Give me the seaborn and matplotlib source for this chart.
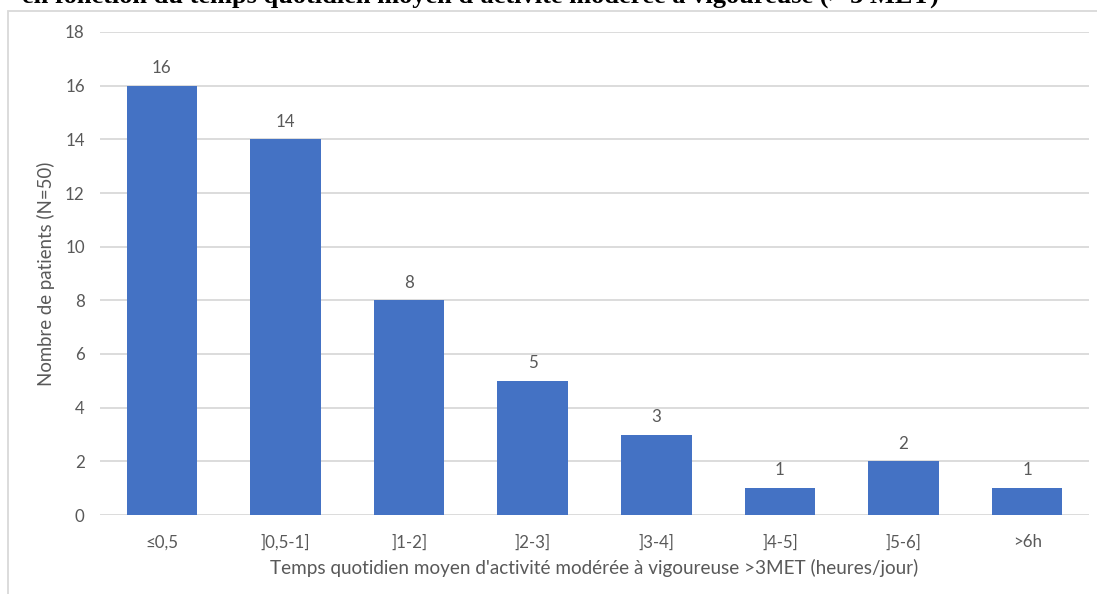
import matplotlib
matplotlib.use("Agg")
import matplotlib.pyplot as plt
from matplotlib.patches import Rectangle
import seaborn as sns
import pandas as pd

categories = ["≤0,5", "]0,5-1]", "]1-2]", "]2-3]", "]3-4]", "]4-5]", "]5-6]", ">6h"]
patients = [16, 14, 8, 5, 3, 1, 2, 1]
y_ticks = [0, 2, 4, 6, 8, 10, 12, 14, 16, 18]

title = "en fonction du temps quotidien moyen d'activité modérée à vigoureuse (> 3 MET)"
x_label = "Temps quotidien moyen d'activité modérée à vigoureuse >3MET (heures/jour)"
y_label = "Nombre de patients (N=50)"

sns.set_theme(style="white")
plt.rcParams["font.family"] = ["Lato", "DejaVu Sans"]

TEXT = "#595959"
GRID = "#d9d9d9"
BAR = "#4472C4"

df = pd.DataFrame({"cat": categories, "n": patients})

fig = plt.figure(figsize=(10.97, 5.94), dpi=100)
ax = fig.add_axes([100 / 1097, 1 - 515 / 594, 989 / 1097, (515 - 32) / 594])

# chart frame
fig.patches.append(Rectangle((8 / 1097, -0.1), 1.2, 1 - 11 / 594 + 0.1,
                             transform=fig.transFigure, fill=False,
                             edgecolor=GRID, linewidth=1.3, zorder=0))

sns.barplot(data=df, x="cat", y="n", color=BAR, saturation=1, width=0.57,
            linewidth=0, ax=ax, zorder=3)

ax.set_ylim(0, 18)
ax.set_xlim(-0.5, len(categories) - 0.5)
ax.set_yticks(y_ticks)
ax.yaxis.grid(True, color=GRID, linewidth=1.3, zorder=0)
ax.set_axisbelow(True)
for s in ax.spines.values():
    s.set_visible(False)
ax.tick_params(axis="both", length=0, labelsize=12.2, labelcolor=TEXT)
ax.tick_params(axis="y", pad=11)
ax.tick_params(axis="x", pad=14)

for c in ax.containers:
    ax.bar_label(c, labels=[str(v) for v in patients], padding=7, fontsize=12.2, color=TEXT)

ax.set_xlabel(x_label, fontsize=13.6, color=TEXT, labelpad=6)
ax.set_ylabel(y_label, fontsize=13.4, color=TEXT)
ax.yaxis.set_label_coords(-(100 - 55) / 989, 0.5)

fig.text(22 / 1097, 1 - 3 / 594, title, family=["Liberation Serif"], fontweight="bold",
         fontsize=19, color="black", va="baseline", ha="left")

fig.savefig("out.png", dpi=100, facecolor="white")
